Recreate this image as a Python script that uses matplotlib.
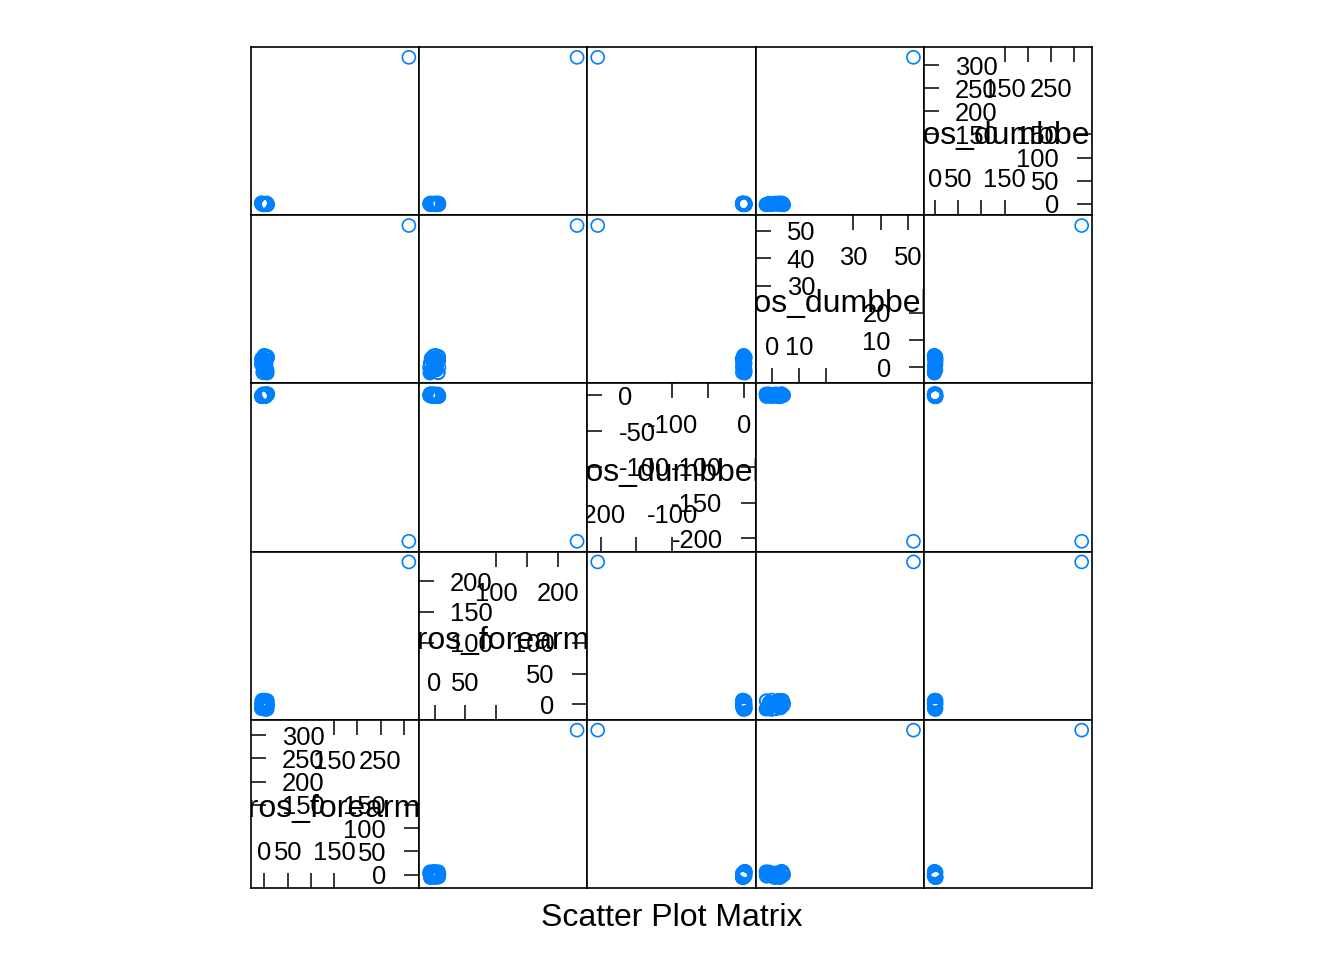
import matplotlib
matplotlib.use("Agg")
import matplotlib.pyplot as plt

plt.rcParams['font.family'] = ['Liberation Sans', 'DejaVu Sans']

# variable names (lattice splom, order bottom-left -> top-right)
var_names = ["gyros_forearm_y", "gyros_forearm_z", "gyros_dumbbell_x",
             "gyros_dumbbell_y", "gyros_dumbbell_z"]

# bulk of the points sits near 0, last row is the single big outlier
gyros_forearm_y = [0.02, -0.48, 0.61, -1.12, 1.37, -2.05, 2.46, -3.10, 3.28, -4.02,
                   4.51, -5.23, 5.87, -6.55, 6.92, -0.87, 0.95, -1.65, 1.83, -2.61,
                   2.98, -0.21, 0.33, -0.05, 0.12, -0.64, 0.78, -1.38, 1.09, -0.30,
                   3.9, -3.7, 5.1, -5.6, 2.2, -2.9, 6.1, -6.8, 4.7, -4.4,
                   1.6, -1.9, 3.4, -3.3, 5.5, -5.9, 0.4, -0.7, 2.7, -2.3, 311.0]
gyros_forearm_z = [-0.14, 0.89, -1.41, 2.05, -2.62, 3.18, -3.95, 4.44, -5.07, 5.66,
                   -6.31, 6.89, -7.48, 0.55, -0.77, 1.36, -1.93, 2.51, -8.09, 0.20,
                   -0.36, 1.12, -1.05, 0.64, -0.48, 0.03, 7.10, -2.25, 1.74, -0.92,
                   5.2, 5.8, -6.0, -5.5, 4.0, -4.6, 6.3, -6.7, 3.1, -3.6,
                   6.6, 6.0, -7.0, -2.9, 2.7, 4.8, -5.1, 1.0, -1.6, 0.3, 231.0]
gyros_dumbbell_x = [0.16, -0.21, 0.35, -0.48, 0.64, -0.79, 0.92, -1.08, 1.21, -1.37,
                    1.55, -1.69, 1.82, -2.02, 2.22, 0.03, -0.06, 0.27, -0.32, 0.45,
                    -0.57, 0.11, -0.14, 0.71, -0.88, 1.01, -1.15, 0.08, -0.02, 0.19,
                    1.9, -1.8, 1.6, -1.5, -2.0, 2.1, 0.5, -0.4, 1.3, -1.2,
                    -0.9, 0.8, 2.0, -1.7, 0.6, -0.3, 1.45, -1.05, 0.25, -0.65, -204.0]
gyros_dumbbell_y = [0.05, 0.38, -0.27, 0.81, -0.62, 1.24, -0.95, 1.66, -1.33, 2.10,
                    -1.71, 2.58, -2.10, 3.02, 3.55, 4.41, 0.16, 0.52, -0.11, 0.93,
                    -0.44, 1.37, 0.24, 0.67, -0.79, 1.85, 0.02, 2.34, -0.18, 0.45,
                    3.8, -1.9, -1.5, 3.3, 2.8, -1.2, 4.0, 1.1, -0.6, 2.6,
                    3.9, -2.0, 1.5, 0.3, -1.0, 2.2, 3.1, -0.3, 4.2, 0.8, 52.0]
gyros_dumbbell_z = [-0.18, 0.23, -0.41, 0.49, -0.67, 0.72, -0.90, 0.98, -1.15, 1.23,
                    -1.39, 1.46, -1.64, 1.70, -1.92, -2.38, 0.05, -0.10, 0.31, -0.28,
                    0.57, -0.53, 0.84, -0.79, -1.02, 1.11, -1.27, 0.14, -0.02, 0.38,
                    1.5, -1.8, -2.1, 1.2, 0.6, -0.4, -1.5, 1.65, 0.2, -0.9,
                    1.0, -2.2, 0.45, -0.6, 1.35, -1.1, 0.7, -1.9, 0.1, -0.25, 317.0]

columns = [gyros_forearm_y, gyros_forearm_z, gyros_dumbbell_x,
           gyros_dumbbell_y, gyros_dumbbell_z]

# tick values drawn in the diagonal panels
tick_at = [[0, 50, 100, 150, 200, 250, 300],
           [0, 50, 100, 150, 200],
           [-200, -150, -100, -50, 0],
           [0, 10, 20, 30, 40, 50],
           [0, 50, 100, 150, 200, 250, 300]]

x_label = "Scatter Plot Matrix"

POINT_COL = "#0080ff"
W, H = 1344, 960          # figure in pixels
LEFT0, TOP0 = 251, 47     # top-left corner of the panel block
PX = 841 / 5.0            # panel size in pixels
TICK = 15.0 / PX          # tick length (axes fraction)

fig = plt.figure(figsize=(W / 100, H / 100), dpi=100)
renderer = fig.canvas.get_renderer()


def limits(v):
    # lattice style: extend the range by 7% on each side
    lo, hi = min(v), max(v)
    pad = 0.07 * (hi - lo)
    return lo - pad, hi + pad


def keep_apart(texts):
    # drop labels that overlap an earlier one (like check.overlap in grid)
    kept = []
    for t in texts:
        bb = t.get_window_extent(renderer)
        if any(bb.x0 < k.x1 and k.x0 < bb.x1 for k in kept):
            t.remove()
        else:
            kept.append(bb)


def diag_panel(ax, i):
    at = tick_at[i]
    n = len(at)
    lower = at[:(n + 1) // 2]   # bottom and right
    upper = at[n // 2:]         # top and left
    xt = ax.get_xaxis_transform()   # x data, y axes
    yt = ax.get_yaxis_transform()   # x axes, y data
    line = dict(color="black", lw=1.1, solid_capstyle="butt")
    font = dict(fontsize=18.4, clip_on=True, va="center_baseline")
    bottom, top = [], []
    for v in lower:
        ax.plot([v, v], [0, TICK], transform=xt, **line)
        ax.plot([1 - TICK, 1], [v, v], transform=yt, **line)
        bottom.append(ax.text(v, 38 / PX, str(v), transform=xt, ha="center", **font))
        ax.text(1 - 33 / PX, v, str(v), transform=yt, ha="right", **font)
    for v in upper:
        ax.plot([v, v], [1 - TICK, 1], transform=xt, **line)
        ax.plot([0, TICK], [v, v], transform=yt, **line)
        top.append(ax.text(v, 1 - 40 / PX, str(v), transform=xt, ha="center", **font))
        ax.text(31 / PX, v, str(v), transform=yt, ha="left", **font)
    keep_apart(bottom)
    keep_apart(top)
    # variable name, centred and cut off at the panel edges
    ax.text(0.5, 0.5 - 5 / PX, var_names[i], transform=ax.transAxes, ha="center",
            va="center", fontsize=23, clip_on=True)


for r in range(5):
    for c in range(5):
        xi, yi = c, 4 - r
        ax = fig.add_axes([(LEFT0 + c * PX) / W, (H - TOP0 - (r + 1) * PX) / H,
                           PX / W, PX / H])
        ax.set_xlim(limits(columns[xi]))
        ax.set_ylim(limits(columns[yi]))
        ax.set_xticks([])
        ax.set_yticks([])
        for s in ax.spines.values():
            s.set_linewidth(1.2)
            s.set_color("black")
        if xi == yi:
            diag_panel(ax, xi)
        else:
            ax.scatter(columns[xi], columns[yi], s=88, facecolors="none",
                       edgecolors=POINT_COL, linewidths=1.2)

fig.text(0.5, 1 - 918.0 / H, x_label, ha="center", va="center", fontsize=23)

fig.savefig("out.png", dpi=100)
